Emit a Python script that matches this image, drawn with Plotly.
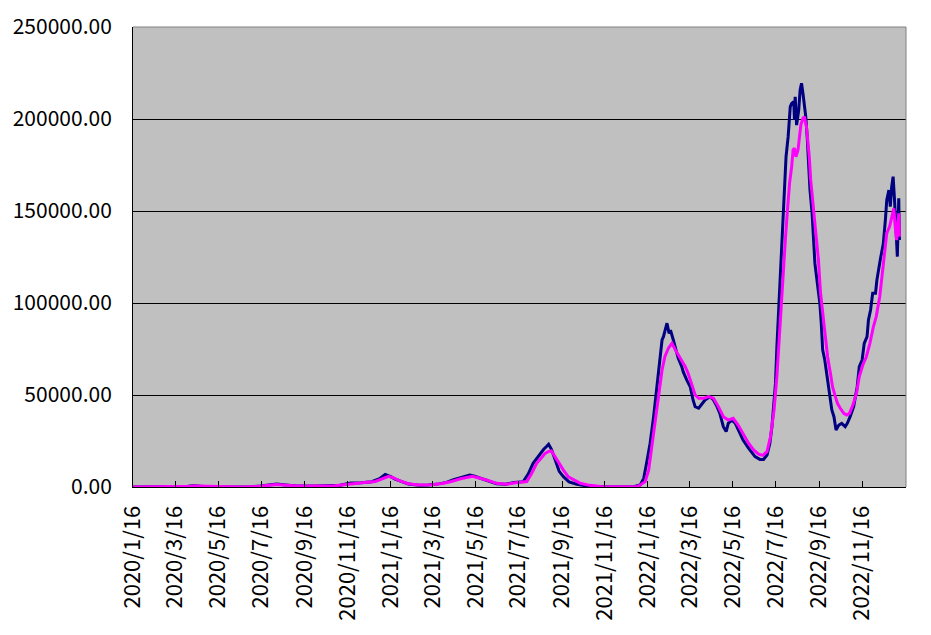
import plotly.graph_objects as go

# daily new cases (navy)
daily_dates = [
    "2020-01-16", "2020-02-10", "2020-03-01", "2020-03-20", "2020-04-03",
    "2020-04-11", "2020-04-20", "2020-05-01", "2020-05-15", "2020-06-10",
    "2020-07-01", "2020-07-15", "2020-07-31", "2020-08-07", "2020-08-20",
    "2020-09-05", "2020-10-01", "2020-10-20", "2020-11-05", "2020-11-20",
    "2020-12-05", "2020-12-20", "2020-12-31", "2021-01-08", "2021-01-12",
    "2021-01-16", "2021-01-22", "2021-01-30", "2021-02-10", "2021-02-25",
    "2021-03-10", "2021-03-25", "2021-04-05", "2021-04-15", "2021-04-25",
    "2021-05-08", "2021-05-14", "2021-05-22", "2021-06-01", "2021-06-15",
    "2021-06-28", "2021-07-10", "2021-07-23", "2021-07-30", "2021-08-06",
    "2021-08-11", "2021-08-16", "2021-08-21", "2021-08-25", "2021-08-28",
    "2021-09-01", "2021-09-06", "2021-09-12", "2021-09-18", "2021-09-26",
    "2021-10-07", "2021-10-20", "2021-11-10", "2021-12-10", "2021-12-28",
    "2022-01-05", "2022-01-10", "2022-01-14", "2022-01-19", "2022-01-24",
    "2022-01-28", "2022-01-31", "2022-02-02", "2022-02-05", "2022-02-07",
    "2022-02-12", "2022-02-15", "2022-02-17", "2022-02-21", "2022-02-26",
    "2022-02-28", "2022-03-05", "2022-03-07", "2022-03-12", "2022-03-17",
    "2022-03-21", "2022-03-24", "2022-03-29", "2022-04-03", "2022-04-07",
    "2022-04-14", "2022-04-19", "2022-04-24", "2022-04-28", "2022-05-03",
    "2022-05-07", "2022-05-10", "2022-05-15", "2022-05-20", "2022-05-24",
    "2022-05-31", "2022-06-08", "2022-06-13", "2022-06-17", "2022-06-24",
    "2022-06-29", "2022-07-04", "2022-07-08", "2022-07-11", "2022-07-13",
    "2022-07-16", "2022-07-18", "2022-07-20", "2022-07-23", "2022-07-25",
    "2022-07-27", "2022-07-29", "2022-07-31", "2022-08-03", "2022-08-05",
    "2022-08-06", "2022-08-08", "2022-08-11", "2022-08-12", "2022-08-13",
    "2022-08-15", "2022-08-18", "2022-08-20", "2022-08-22", "2022-08-24",
    "2022-08-26", "2022-08-28", "2022-08-30", "2022-09-01", "2022-09-03",
    "2022-09-06", "2022-09-08", "2022-09-10", "2022-09-14", "2022-09-17",
    "2022-09-19", "2022-09-21", "2022-09-24", "2022-09-27", "2022-09-29",
    "2022-10-02", "2022-10-04", "2022-10-07", "2022-10-10", "2022-10-14",
    "2022-10-18", "2022-10-23", "2022-10-26", "2022-10-30", "2022-11-04",
    "2022-11-09", "2022-11-12", "2022-11-16", "2022-11-19", "2022-11-23",
    "2022-11-25", "2022-11-28", "2022-12-01", "2022-12-05", "2022-12-07",
    "2022-12-12", "2022-12-16", "2022-12-19", "2022-12-21", "2022-12-24",
    "2022-12-26", "2022-12-28", "2022-12-30", "2023-01-01", "2023-01-03",
    "2023-01-05", "2023-01-07", "2023-01-08",
]
daily_cases = [
    0, 10, 15, 50, 350,
    700, 400, 200, 50, 40,
    150, 500, 1500, 1600, 1100,
    600, 550, 600, 1000, 2200,
    2300, 2900, 4500, 6800, 6300,
    5600, 4300, 3000, 1600, 1000,
    1100, 1700, 2500, 4000, 5000,
    6500, 6000, 5000, 3500, 1800,
    1500, 2500, 2900, 7000, 12900,
    15500, 18300, 20500, 22000, 23200,
    20500, 14500, 8500, 5600, 2800,
    1500, 600, 200, 150, 300,
    1100, 4700, 12900, 23700, 38200,
    52700, 63600, 70800, 79900, 81700,
    89000, 83500, 85300, 79900, 72700,
    69900, 65400, 62700, 58200, 54500,
    47300, 43700, 42800, 45500, 47300,
    49100, 47300, 43700, 40000, 32800,
    30100, 34600, 36400, 34600, 31000,
    25500, 21000, 18300, 16500, 15000,
    15000, 17400, 23700, 32800, 41900,
    56300, 76000, 92000, 112000, 132400,
    145100, 163200, 179500, 190400, 201300,
    206700, 208500, 209400, 199500, 212100,
    196700, 204900, 215800, 219400, 214000,
    208500, 201300, 190400, 175900, 161400,
    148700, 134200, 121500, 108900, 99800,
    89000, 74500, 69000, 60000, 54500,
    47300, 41900, 38200, 31000, 33700,
    34600, 32800, 34600, 38200, 43700,
    54500, 65400, 69000, 78100, 81700,
    90800, 96200, 105300, 105300, 112500,
    124000, 132000, 145100, 156000, 161400,
    152400, 163200, 168700, 156000, 137900,
    125200, 156900, 134200,
]

# 7-day average (magenta)
avg_dates = [
    "2020-01-16", "2020-03-01", "2020-03-25", "2020-04-05", "2020-04-14",
    "2020-04-25", "2020-05-08", "2020-05-25", "2020-06-20", "2020-07-10",
    "2020-07-25", "2020-08-07", "2020-08-20", "2020-09-05", "2020-10-01",
    "2020-10-25", "2020-11-10", "2020-11-25", "2020-12-10", "2020-12-25",
    "2021-01-05", "2021-01-13", "2021-01-20", "2021-01-28", "2021-02-10",
    "2021-02-25", "2021-03-15", "2021-03-30", "2021-04-12", "2021-04-25",
    "2021-05-12", "2021-05-22", "2021-06-01", "2021-06-15", "2021-06-30",
    "2021-07-12", "2021-07-28", "2021-08-04", "2021-08-11", "2021-08-17",
    "2021-08-23", "2021-08-28", "2021-09-01", "2021-09-06", "2021-09-12",
    "2021-09-18", "2021-09-25", "2021-10-03", "2021-10-12", "2021-10-25",
    "2021-11-10", "2021-12-10", "2022-01-01", "2022-01-05", "2022-01-12",
    "2022-01-17", "2022-01-21", "2022-01-26", "2022-01-31", "2022-02-05",
    "2022-02-09", "2022-02-14", "2022-02-19", "2022-02-24", "2022-03-03",
    "2022-03-10", "2022-03-14", "2022-03-19", "2022-03-24", "2022-03-29",
    "2022-04-05", "2022-04-12", "2022-04-19", "2022-04-26", "2022-05-03",
    "2022-05-10", "2022-05-17", "2022-05-24", "2022-05-31", "2022-06-08",
    "2022-06-15", "2022-06-22", "2022-06-28", "2022-07-04", "2022-07-09",
    "2022-07-14", "2022-07-18", "2022-07-20", "2022-07-23", "2022-07-25",
    "2022-07-27", "2022-07-30", "2022-08-02", "2022-08-05", "2022-08-08",
    "2022-08-10", "2022-08-12", "2022-08-14", "2022-08-17", "2022-08-19",
    "2022-08-21", "2022-08-24", "2022-08-26", "2022-08-29", "2022-08-31",
    "2022-09-02", "2022-09-04", "2022-09-07", "2022-09-10", "2022-09-13",
    "2022-09-15", "2022-09-18", "2022-09-21", "2022-09-25", "2022-09-28",
    "2022-10-02", "2022-10-05", "2022-10-09", "2022-10-12", "2022-10-16",
    "2022-10-21", "2022-10-25", "2022-10-29", "2022-11-03", "2022-11-08",
    "2022-11-12", "2022-11-17", "2022-11-22", "2022-11-27", "2022-12-02",
    "2022-12-06", "2022-12-11", "2022-12-16", "2022-12-18", "2022-12-21",
    "2022-12-25", "2022-12-28", "2022-12-31", "2023-01-02", "2023-01-04",
    "2023-01-07", "2023-01-08",
]
avg_cases = [
    0, 10, 100, 350, 550,
    450, 150, 40, 50, 250,
    800, 1300, 1000, 600, 500,
    600, 1200, 2000, 2400, 3000,
    4500, 5800, 5000, 3500, 1800,
    1100, 1200, 1900, 3000, 4500,
    5800, 5000, 3800, 2000, 1500,
    2300, 3000, 7500, 12900, 15500,
    18300, 19300, 19600, 16500, 12500,
    9200, 5500, 3800, 2000, 900,
    300, 150, 250, 1100, 2900,
    9200, 20100, 32800, 49100, 63600,
    70800, 75400, 78100, 74500, 69900,
    65400, 61800, 56300, 50000, 48200,
    48200, 49100, 48200, 43700, 38200,
    36400, 37300, 33700, 29200, 23700,
    20100, 17900, 17200, 19200, 27400,
    41900, 60000, 72700, 90000, 105300,
    119800, 134200, 150500, 165000, 174100,
    183200, 184100, 179500, 183200, 189500,
    196700, 200400, 201300, 195800, 188600,
    179500, 166900, 154200, 143300, 132400,
    123400, 105300, 94400, 83500, 70800,
    61800, 54500, 49100, 45500, 42800,
    40000, 39100, 40000, 44600, 50900,
    60000, 66300, 70800, 78100, 87100,
    92600, 103400, 120000, 128000, 137900,
    141500, 146900, 151400, 141500, 134200,
    148700, 136100,
]

tick_dates = [
    "2020-01-16", "2020-03-16", "2020-05-16", "2020-07-16", "2020-09-16",
    "2020-11-16", "2021-01-16", "2021-03-16", "2021-05-16", "2021-07-16",
    "2021-09-16", "2021-11-16", "2022-01-16", "2022-03-16", "2022-05-16",
    "2022-07-16", "2022-09-16", "2022-11-16",
]
tick_labels = [
    "2020/1/16", "2020/3/16", "2020/5/16", "2020/7/16", "2020/9/16",
    "2020/11/16", "2021/1/16", "2021/3/16", "2021/5/16", "2021/7/16",
    "2021/9/16", "2021/11/16", "2022/1/16", "2022/3/16", "2022/5/16",
    "2022/7/16", "2022/9/16", "2022/11/16",
]

font = "Noto Sans CJK JP, Liberation Sans, sans-serif"

fig = go.Figure()
fig.add_trace(go.Scatter(
    x=daily_dates, y=daily_cases, mode="lines",
    line=dict(color="#000080", width=3), name="新規感染者数"))
fig.add_trace(go.Scatter(
    x=avg_dates, y=avg_cases, mode="lines",
    line=dict(color="#FF00FF", width=3), name="7日間平均"))

fig.update_layout(
    width=931, height=635,
    margin=dict(l=133, r=25, t=27, b=148),
    paper_bgcolor="white",
    plot_bgcolor="#C0C0C0",
    showlegend=False,
    font=dict(family=font, size=20, color="black"),
    xaxis=dict(
        type="date",
        range=["2020-01-16", "2023-01-17 07:00"],
        tickvals=tick_dates, ticktext=tick_labels,
        tickangle=-90,
        ticks="inside", ticklen=6, tickcolor="black",
        ticklabelstandoff=9,
        showline=True, linecolor="black", linewidth=1,
        showgrid=False, zeroline=False, automargin=False,
        tickfont=dict(family=font, size=22, color="black"),
    ),
    yaxis=dict(
        range=[0, 250000], dtick=50000, tickformat=".2f",
        ticks="inside", ticklen=6, tickcolor="black",
        ticklabelstandoff=16,
        showline=True, linecolor="black", linewidth=1,
        showgrid=True, gridcolor="black", gridwidth=1,
        zeroline=False, automargin=False,
        tickfont=dict(family=font, size=21, color="black"),
    ),
    shapes=[
        dict(type="line", xref="paper", yref="paper", x0=0, x1=1, y0=1, y1=1,
             line=dict(color="#808080", width=1)),
        dict(type="line", xref="paper", yref="paper", x0=1, x1=1, y0=0, y1=1,
             line=dict(color="#808080", width=1)),
    ],
)

# drop the browser's default page margin so the figure sits at the corner
fig.write_html("out.html", config={"displayModeBar": False},
               post_script="document.body.style.margin='0';")
